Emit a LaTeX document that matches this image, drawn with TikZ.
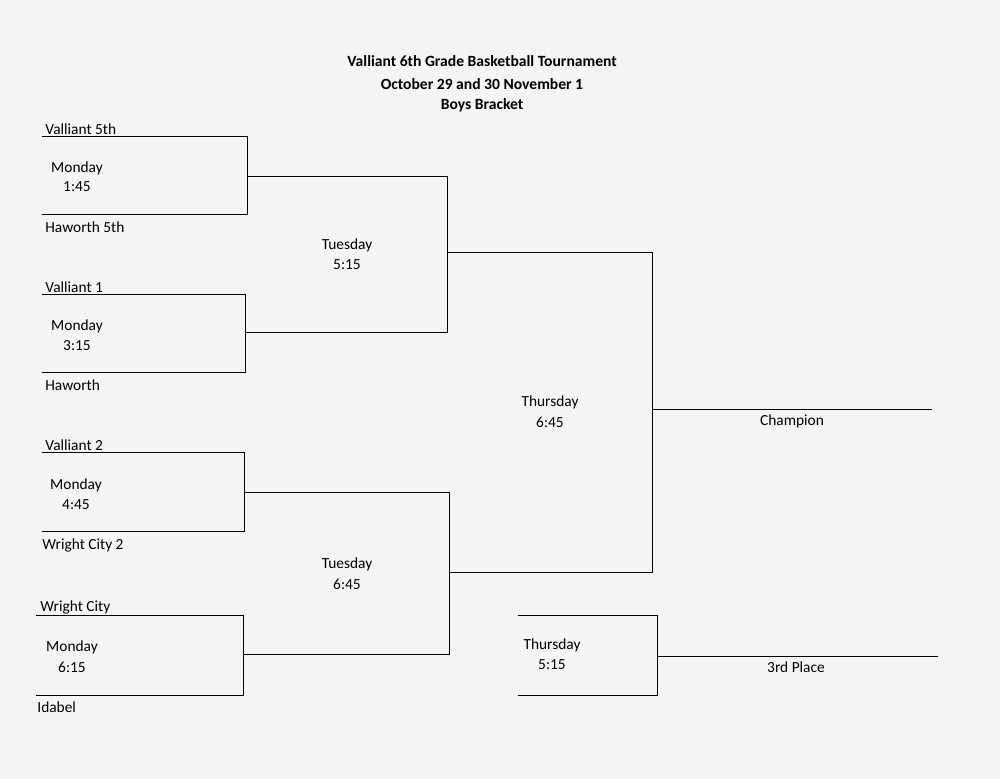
\documentclass[tikz,border=0pt]{standalone}
\usepackage{fontspec}
\setmainfont{Carlito}
\tikzset{
  lbl/.style={inner sep=0pt, font=\fontsize{7.7}{9}\selectfont},
  team/.style={lbl, anchor=west},
  title/.style={lbl, font=\fontsize{7.8}{9}\selectfont\bfseries},
  ln/.style={line width=0.5pt}
}
\begin{document}
\begin{tikzpicture}[x=0.5pt,y=-0.5pt]
        \fill[black!4] (0,0) rectangle (1000,779);
        \useasboundingbox (0,0) rectangle (1000,779);
        % title
        \node[title] (t1) at (482,61) {Valliant 6th Grade Basketball Tournament};
        \node[title] (t2) at (482,84) {October 29 and 30 November 1};
        \node[title] (t3) at (482,105) {Boys Bracket};
        % first round
        \coordinate (a1) at (42,137);  \coordinate (a2) at (247,137);
        \coordinate (a3) at (42,215);  \coordinate (a4) at (247,215);
        \coordinate (b1) at (42,295);  \coordinate (b2) at (245,295);
        \coordinate (b3) at (42,373);  \coordinate (b4) at (245,373);
        \coordinate (c1) at (42,453);  \coordinate (c2) at (244,453);
        \coordinate (c3) at (42,532);  \coordinate (c4) at (244,532);
        \coordinate (d1) at (36,615);  \coordinate (d2) at (243,615);
        \coordinate (d3) at (36,695);  \coordinate (d4) at (243,695);
        \draw[ln] (a1) -- (a2) -- (a4) -- (a3);
        \draw[ln] (b1) -- (b2) -- (b4) -- (b3);
        \draw[ln] (c1) -- (c2) -- (c4) -- (c3);
        \draw[ln] (d1) -- (d2) -- (d4) -- (d3);
        % second round
        \coordinate (e1) at (447,177); \coordinate (e2) at (447,333);
        \coordinate (f1) at (449,493); \coordinate (f2) at (449,654);
        \draw[ln] (247,177) -- (e1) -- (e2) -- (245,333);
        \draw[ln] (244,493) -- (f1) -- (f2) -- (243,654);
        % final
        \coordinate (g1) at (652,253); \coordinate (g2) at (652,573);
        \draw[ln] (447,253) -- (g1) -- (g2) -- (449,573);
        \coordinate (champ) at (932,410);
        \draw[ln] (652,410) -- (champ);
        % third place
        \coordinate (h1) at (518,615); \coordinate (h2) at (657,615);
        \coordinate (h3) at (518,695); \coordinate (h4) at (657,695);
        \draw[ln] (h1) -- (h2) -- (h4) -- (h3);
        \coordinate (third) at (938,656);
        \draw[ln] (657,656) -- (third);
        % teams
        \node[team] (v5) at (45,129) {Valliant 5th};
        \node[team] (h5) at (45,227) {Haworth 5th};
        \node[team] (v1) at (45,287) {Valliant 1};
        \node[team] (hw) at (45,385) {Haworth};
        \node[team] (v2) at (45,445) {Valliant 2};
        \node[team] (w2) at (42,545) {Wright City 2};
        \node[team] (wc) at (40,607) {Wright City};
        \node[team] (id) at (37,707) {Idabel};
        % game times
        \node[lbl] (m1) at (77,168) {Monday};   \node[lbl] (m1t) at (77,187) {1:45};
        \node[lbl] (m2) at (77,326) {Monday};   \node[lbl] (m2t) at (77,346) {3:15};
        \node[lbl] (m3) at (76,485) {Monday};   \node[lbl] (m3t) at (76,505) {4:45};
        \node[lbl] (m4) at (72,647) {Monday};   \node[lbl] (m4t) at (72,667) {6:15};
        \node[lbl] (tu1) at (347,245) {Tuesday}; \node[lbl] (tu1t) at (347,265) {5:15};
        \node[lbl] (tu2) at (347,564) {Tuesday}; \node[lbl] (tu2t) at (347,584) {6:45};
        \node[lbl] (th1) at (550,402) {Thursday}; \node[lbl] (th1t) at (550,422) {6:45};
        \node[lbl] (th2) at (552,645) {Thursday}; \node[lbl] (th2t) at (552,665) {5:15};
        \node[lbl] (ch) at (792,421) {Champion};
        \node[lbl] (tp) at (796,667) {3rd Place};
\end{tikzpicture}
\end{document}
